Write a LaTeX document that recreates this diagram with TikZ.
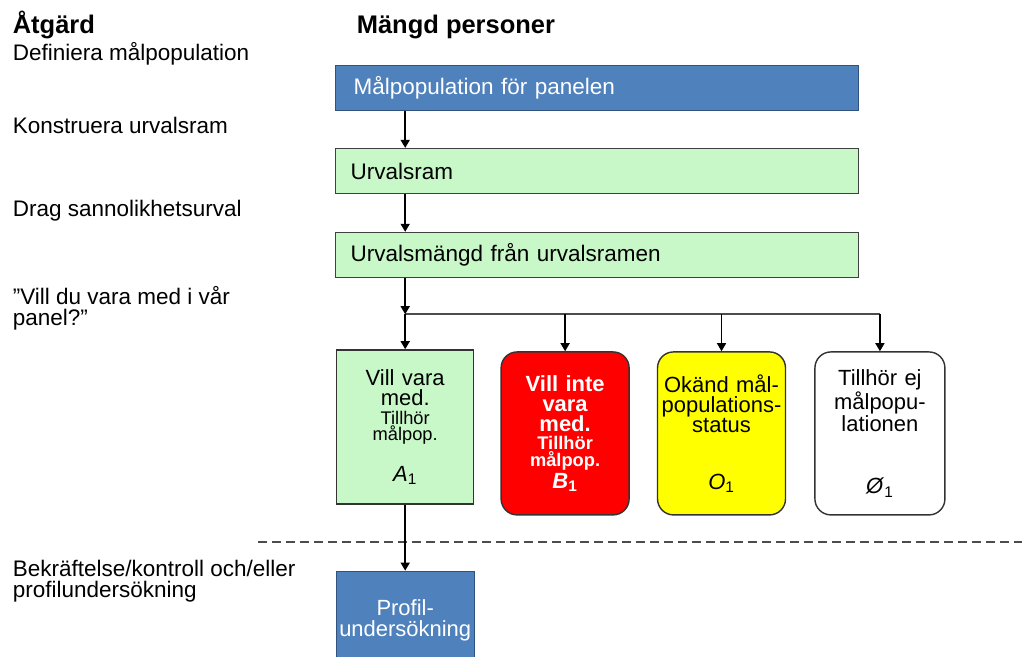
\documentclass[tikz,border=0pt]{standalone}
\usepackage{fontspec}
\setmainfont{Liberation Sans}
\usetikzlibrary{arrows.meta,positioning}
\definecolor{ppBlue}{HTML}{4F81BD}
\definecolor{ppBlueEdge}{HTML}{30527E}
\definecolor{ppMint}{HTML}{C8F8C8}
\definecolor{ppRed}{HTML}{FF0000}
\definecolor{ppYellow}{HTML}{FFFF00}
\newcommand{\bodyfont}{\fontsize{12.8pt}{11.4pt}\selectfont}
\newcommand{\headfont}{\fontsize{14.5pt}{16pt}\selectfont\bfseries}
\newcommand{\boxfont}{\fontsize{12.5pt}{11.4pt}\selectfont}
\newcommand{\notefont}{\fontsize{10.4pt}{9.5pt}\selectfont}
\lineskiplimit=-20pt
\setlength{\parindent}{0pt}
\tikzset{
  stagebox/.style={draw=black!75, line width=.8pt, minimum height=9mm,
    text width=97.4mm, inner xsep=3.6mm, inner ysep=0pt, align=left, font=\bodyfont},
  targetbox/.style={stagebox, fill=ppBlue, draw=ppBlueEdge, text=white},
  framebox/.style={stagebox, fill=ppMint, text width=98.6mm, inner xsep=3mm},
  outcome/.style={draw=black!80, line width=.8pt, minimum height=32.6mm,
    text width=25mm, inner xsep=.3mm, align=center, rounded corners=3.2mm, font=\boxfont},
  flow/.style={-{Triangle[length=1.6mm, width=1.8mm]}, line width=.3mm, draw=black},
  branch/.style={line width=.3mm, draw=black!70},
  cutline/.style={line width=.3mm, draw=black!70, dash pattern=on 1.8mm off 1mm},
  actiontext/.style={font=\bodyfont, anchor=base west, inner sep=0pt, align=left},
  headtext/.style={font=\headfont, anchor=base west, inner sep=0pt}
}
\begin{document}
\begin{tikzpicture}[x=1mm, y=1mm]
  \useasboundingbox (0,0) rectangle (204.4,-131.4);
  \clip (0,0) rectangle (204.4,-131.4);

  % column heads and actions
  \node[headtext] (hAction) at (2.5,-6.6) {Åtgärd};
  \node[headtext] (hCount) at (71.3,-6.6) {Mängd personer};
  \node[actiontext] (lDefine) at (2.5,-12) {Definiera målpopulation};
  \node[actiontext] (lFrame) at (2.5,-26.6) {Konstruera urvalsram};
  \node[actiontext] (lDraw) at (2.5,-43.2) {Drag sannolikhetsurval};
  \node[actiontext] (lAsk) at (2.5,-65) {”Vill du vara med i vår\\panel?”};
  \node[actiontext] (lConfirm) at (2.5,-119.4) {Bekräftelse/kontroll och/eller\\profilundersökning};

  % population stages
  \node[targetbox, anchor=north west] (target) at (67,-13) {Målpopulation för panelen};
  \node[framebox, below=7.3mm of target] (frame) {Urvalsram};
  \node[framebox, below=7.5mm of frame] (sample) {Urvalsmängd från urvalsramen};

  \node[outcome, fill=ppMint, rounded corners=0pt, minimum height=30.8mm, text width=26.8mm,
    below=14.2mm of sample.south west, anchor=north west, xshift=.2mm] (a1)
    {Vill vara\\med.\par\notefont\vspace{1.2pt}Tillhör\\målpop.\par\boxfont\vspace{4mm}\textit{A}\textsubscript{1}};
  \node[outcome, fill=ppRed, text=white, right=5.2mm of a1.north east, anchor=north west, yshift=-.4mm] (b1)
    {\bfseries Vill inte\\vara\\med.\par\notefont\bfseries\vspace{1.2pt}Tillhör\\målpop.\par\boxfont\bfseries\vspace{1pt}\textit{B}\textsubscript{1}};
  \node[outcome, fill=ppYellow, right=5.4mm of b1.north east, anchor=north west] (o1)
    {Okänd mål-\\populations-\\status\par\vspace{7.4mm}\textit{O}\textsubscript{1}};
  \node[outcome, fill=white, text width=25.4mm, right=5.6mm of o1.north east, anchor=north west] (notmember)
    {Tillhör ej\\målpopu-\\lationen\par\vspace{8.4mm}\textit{Ø}\textsubscript{1}};

  \node[outcome, fill=ppBlue, draw=ppBlueEdge, text=white, rounded corners=0pt, minimum height=19.6mm,
    text width=27mm, below=13.2mm of a1] (profile) {Profil-\\undersökning};

  % connectors
  \draw[flow] (target.south -| a1.north) -- (frame.north -| a1.north);
  \draw[flow] (frame.south -| a1.north) -- (sample.north -| a1.north);
  \path (sample.south -| a1.north) ++(0,-7.2) coordinate (split);
  \draw[branch] (split) -- (split -| notmember.north);
  \draw[flow] (sample.south -| a1.north) -- (split);
  \foreach \g in {a1,b1,o1,notmember}
    \draw[flow] (split -| \g.north) -- (\g.north);

  \coordinate (cutStart) at (51.6,-108.4);
  \coordinate (cutEnd) at (204.4,-108.4);
  \draw[cutline] (cutStart) -- (cutEnd);
  \draw[flow] (a1.south) -- (profile.north);
\end{tikzpicture}
\end{document}
